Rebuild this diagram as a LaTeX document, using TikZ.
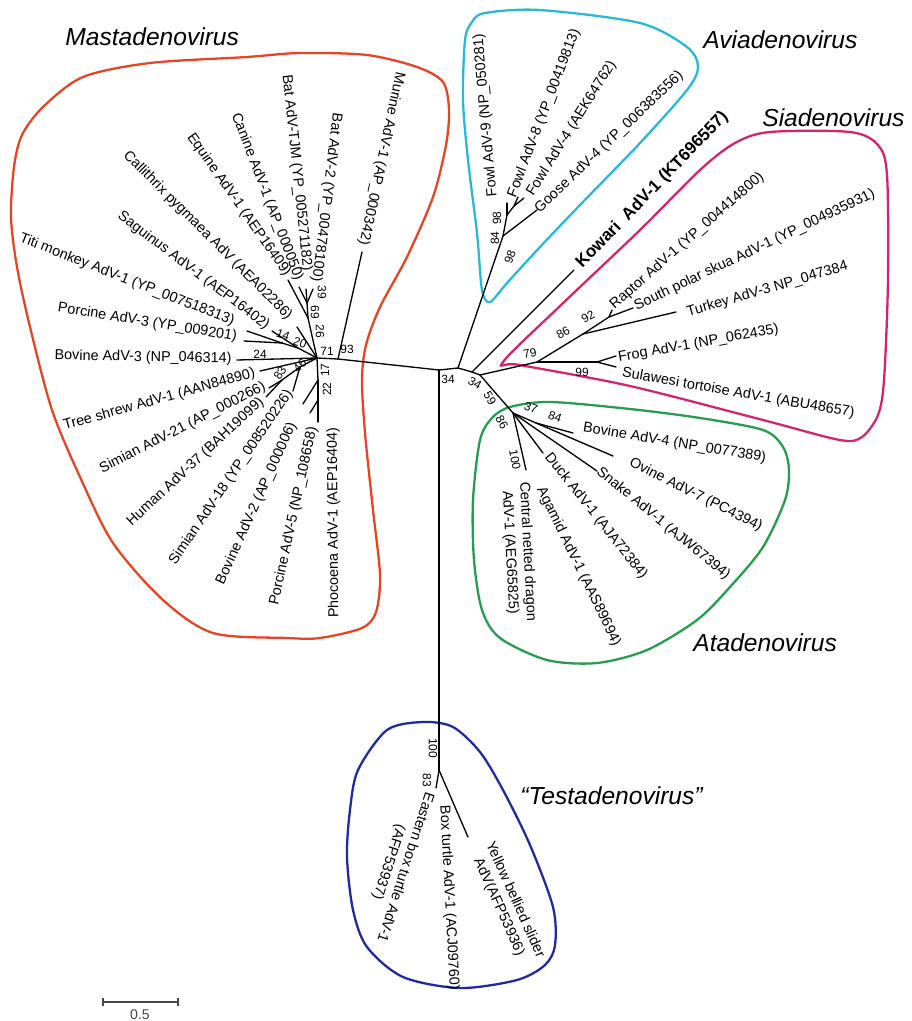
\documentclass[tikz,border=0pt]{standalone}
\usepackage{fontspec}
\setmainfont{Liberation Sans}
\definecolor{mastred}{RGB}{230,68,34}
\definecolor{aviacyan}{RGB}{40,185,215}
\definecolor{siamag}{RGB}{212,36,108}
\definecolor{atagreen}{RGB}{38,156,80}
\definecolor{testblue}{RGB}{32,42,158}
\definecolor{scalegray}{RGB}{70,70,70}
\tikzset{
  branch/.style={line width=0.75pt, line cap=round},
  clade/.style={line width=1.3pt},
  leafR/.style={anchor=west, inner sep=0pt, font=\fontsize{8.2}{10}\selectfont},
  leafL/.style={anchor=east, inner sep=0pt, font=\fontsize{8.2}{10}\selectfont},
  boot/.style={inner sep=0pt, font=\fontsize{6.8}{8}\selectfont},
  genus/.style={anchor=west, inner sep=0pt, font=\fontsize{14}{16}\selectfont\itshape},
}
\begin{document}
\begin{tikzpicture}[x=0.02cm, y=-0.02cm]
\useasboundingbox (0,0) rectangle (912,1021);

% clade outlines
\draw[clade, mastred] plot[smooth cycle, tension=0.5] coordinates {(43,107) (83,77) (150,63) (247,57) (300,53) (367,55) (417,67) (443,82) (449,110) (446,145) (433,197) (407,257) (380,307) (366,345) (362,380) (365,433) (373,510) (380,575) (376,612) (362,628) (320,638) (287,638) (213,633) (163,600) (113,543) (80,477) (52,410) (30,327) (17,267) (11,217) (14,167) (22,135)};
\draw[clade, aviacyan] plot[smooth cycle, tension=0.5] coordinates {(465,40) (472,22) (485,13) (540,10) (640,23) (687,47) (698,67) (687,90) (640,143) (580,205) (540,247) (507,283) (490,302) (482,290) (477,233) (468,160) (463,100)};
\draw[clade, siamag] plot[smooth cycle, tension=0.5] coordinates {(503,362) (560,306) (640,230) (700,170) (735,143) (770,132) (850,132) (878,145) (887,175) (888,280) (884,380) (878,415) (862,437) (840,440) (763,420) (630,386) (520,365)};
\draw[clade, atagreen] plot[smooth cycle, tension=0.5] coordinates {(480,440) (492,418) (510,407) (550,402) (630,409) (700,418) (763,430) (783,447) (789,470) (785,500) (763,547) (730,587) (697,620) (647,650) (597,663) (547,660) (500,638) (482,610) (474,560) (473,500)};
\draw[clade, testblue] plot[smooth cycle, tension=0.5] coordinates {(387,730) (423,722) (453,727) (480,752) (503,790) (530,845) (553,907) (555,945) (545,965) (517,980) (460,988) (403,977) (367,947) (353,910) (347,857) (350,810) (358,770)};

\node[genus] (mast) at (65,37) {Mastadenovirus};
\node[genus] (avia) at (703,40) {Aviadenovirus};
\node[genus] (sia) at (762,118) {Siadenovirus};
\node[genus] (ata) at (693,643) {Atadenovirus};
\node[genus] (test) at (520,796) {``Testadenovirus''};

% tree nodes and tips
\foreach \n/\x/\y in {P/317/358, Q/338/359, A/439/370, B/458/368, C/472/372, D/480/375, T0/439/770,
  P1/308/318, P1a/307/303, S1/298/348, S2/282/343, L1/300/367, L2/282/380, P2/318/380, P3/318/400,
  murine/362/252, bat2/313/289, tjm/306/289, canine/299/287, equine/288/280, calli/297/327,
  sagu/272/331, titi/247/331, porc3/244/341, bov3/237/360, tree/260/371, sim21/269/388,
  hum37/266/397, sim18/293/391, bov2/303/404, porc5/310/413, phoc/318/422,
  G/503/236, H/507/215, H2/514/206, fowl9/507/203, fowl8/518/197, fowl4/524/198, goose/537/210,
  kowari/574/270,
  E/537/362, J/597/362, K/583/334, L/609/317, frog/616/356, sula/616/367, turkey/676/312,
  raptor/612/310, skua/633/308,
  F/513/413, N/536/423, bov4/573/433, ovine/613/456, snake/597/471, duck/543/453, dragon/526/470,
  eastern/436/788, yellow/468/837}
  \coordinate (\n) at (\x,\y);

\foreach \u/\v in {P/Q, Q/A, Q/murine, A/T0, A/B, B/C, C/D, B/G, C/kowari, D/E, D/F,
  P/P1, P1/equine, P1/P1a, P1a/canine, P1a/tjm, P1a/bat2, P/calli, P/S1, S1/sagu, S1/S2,
  S2/titi, S2/porc3, P/bov3, P/tree, P/L1, L1/L2, L2/sim21, L2/hum37, L1/sim18,
  P/P2, P2/P3, P3/phoc, P2/bov2, P3/porc5,
  G/H, H/fowl9, H/H2, H2/fowl8, H2/fowl4, G/goose,
  E/J, J/frog, J/sula, E/K, K/turkey, K/L, L/raptor, L/skua,
  F/N, N/bov4, N/ovine, F/snake, F/duck, F/dragon,
  T0/eastern, T0/yellow}
  \draw[branch] (\u) -- (\v);

% labels reading toward the tip
\foreach \n/\x/\y/\ang/\txt in {murine/363/245/-102/{Murine AdV-1 (AP\_000342)},
  bat2/316/282/-97/{Bat AdV-2 (YP\_00478100)},
  tjm/307/271/-84/{Bat AdV-TJM (YP\_005271182)},
  canine/299/280/-69/{Canine AdV-1 (AP\_000050)},
  equine/288/275/-55/{Equine AdV-1 (AEP16409)},
  calli/290/318/-45/{Callithrix pygmaea AdV (AEA02286)},
  sagu/268/327/-37/{Saguinus AdV-1 (AEP16402)},
  titi/234/322/-21.4/{Titi monkey AdV-1 (YP\_007518313)},
  porc3/237/337/-9.2/{Porcine AdV-3 (YP\_009201)},
  bov3/232/359/-1/{Bovine AdV-3 (NP\_046314)},
  tree/255/373/15.6/{Tree shrew AdV-1 (AAN84890)},
  sim21/265/386/27/{Simian AdV-21 (AP\_000266)},
  hum37/262/400/43/{Human AdV-37 (BAH19099)},
  sim18/290/391/55.7/{Simian AdV-18 (YP\_008520226)},
  bov2/293/423/65.7/{Bovine AdV-2 (AP\_000006)},
  porc5/313/427/77.8/{Porcine AdV-5 (NP\_108658)},
  phoc/333/427/90.5/{Phocoena AdV-1 (AEP16404)}}
  \node[leafL, rotate=\ang] (lab\n) at (\x,\y) {\txt};

% labels reading away from the tip
\foreach \n/\x/\y/\ang/\txt in {fowl9/493/197/95/{Fowl AdV-9 (NP\_050281)},
  fowl8/512/197/69/{Fowl AdV-8 (YP\_00419813)},
  fowl4/530/195/58/{Fowl AdV-4 (AEK64762)},
  goose/537/211/43.6/{Goose AdV-4 (YP\_006383556)},
  raptor/612/307/41.3/{Raptor AdV-1 (YP\_004414800)},
  skua/635/307/25.4/{South polar skua AdV-1 (YP\_004935931)},
  turkey/687/313/16.3/{Turkey AdV-3 NP\_047384},
  frog/618/358/10.1/{Frog AdV-1 (NP\_062435)},
  sula/622/373/-9.9/{Sulawesi tortoise AdV-1 (ABU48657)},
  bov4/583/428/-9.4/{Bovine AdV-4 (NP\_0077389)},
  ovine/630/462/-26.6/{Ovine AdV-7 (PC4394)},
  snake/598/470/-39.4/{Snake AdV-1 (AJW67394)},
  duck/547/455/-51.4/{Duck AdV-1 (AJA72384)},
  agamid/540/488/-63.9/{Agamid AdV-1 (AAS89694)},
  boxt/444/805/-87/{Box turtle AdV-1 (ACJ09760)}}
  \node[leafR, rotate=\ang] (lab\n) at (\x,\y) {\txt};

\node[leafR, rotate=46, font=\fontsize{9.7}{11}\selectfont\bfseries] (labkowari) at (579,266) {Kowari\ \ AdV-1 (KT696557)};
\node[leafR, rotate=-87, align=center] (labdragon) at (515,482) {Central netted dragon\\AdV-1 (AEG65825)};
\node[leafR, rotate=-108, align=center] (labeastern) at (421,790) {Eastern box turtle AdV-1\\(AFP53937)};
\node[leafR, rotate=-65.8, align=center] (labyellow) at (481,846) {Yellow bellied slider\\AdV(AFP53936)};

% bootstrap values
\foreach \x/\y/\ang/\v in {322/292/-90/39, 315/312/-90/69, 320/331/-90/26, 283/335/-20/14, 300/343/-20/20,
  260/354/0/24, 327/351/0/71, 347/349/0/93, 300/366/45/46, 280/373/60/83, 325/370/90/17, 327/389/90/22,
  495/238/90/84, 497/218/90/98, 510/257/70/98,
  448/379/0/34, 475/383/-30/34, 490/398/-60/59, 502/422/-60/86,
  530/353/10/79, 563/333/30/86, 588/317/30/92, 582/372/0/99,
  531/408/-20/37, 555/417/-20/84, 515/460/-80/100,
  433/748/-90/100, 427/780/-90/83}
  \node[boot, rotate=\ang] at (\x,\y) {\v};

% scale bar
\coordinate (sb1) at (103,1002);
\coordinate (sb2) at (178,1002);
\draw[scalegray, line width=0.8pt] (sb1) -- (sb2);
\draw[scalegray, line width=0.8pt] (103,998) -- (103,1006) (178,998) -- (178,1006);
\node[inner sep=0pt, text=scalegray, font=\fontsize{8}{9}\selectfont] (sblab) at (140,1015) {0.5};
\end{tikzpicture}
\end{document}
